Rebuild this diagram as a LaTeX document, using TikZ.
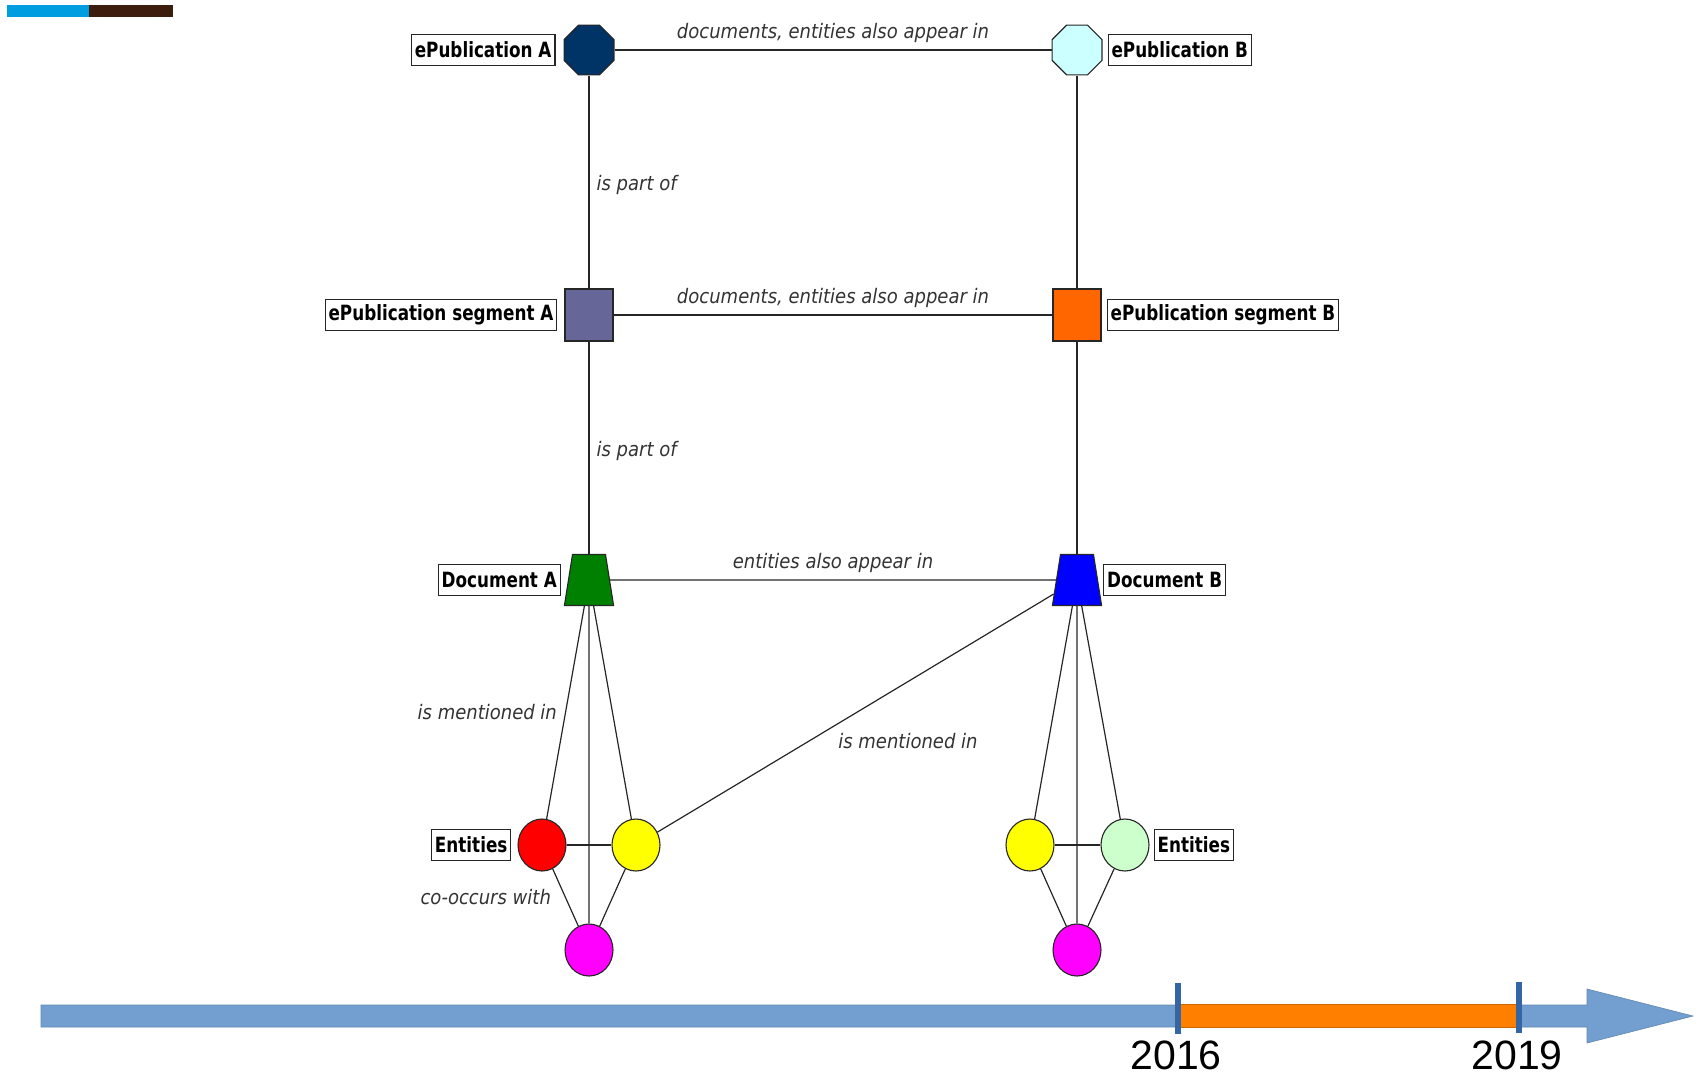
\documentclass[tikz,border=0pt]{standalone}
\usepackage{fontspec}
\usepackage{xcolor}
\usepackage{tikz}
\usetikzlibrary{shapes, arrows, positioning}
\setmainfont{Liberation Sans}
\newfontfamily\tagfont[FakeStretch=0.8]{DejaVu Sans}
\newfontfamily\relfont[FakeStretch=0.9]{DejaVu Sans}
\definecolor{navy}{HTML}{003366}
\definecolor{paleCyan}{HTML}{CCFFFF}
\definecolor{slate}{HTML}{666699}
\definecolor{segOrange}{HTML}{FF6600}
\definecolor{docGreen}{HTML}{008000}
\definecolor{docBlue}{HTML}{0000FF}
\definecolor{entRed}{HTML}{FF0000}
\definecolor{entYellow}{HTML}{FFFF00}
\definecolor{entMagenta}{HTML}{FF00FF}
\definecolor{mint}{HTML}{CCFFCC}
\definecolor{lineBlue}{HTML}{729FCF}
\definecolor{tickBlue}{HTML}{3465A4}
\definecolor{barOrange}{HTML}{FF8000}
\definecolor{logoBlue}{HTML}{009EE0}
\definecolor{logoBrown}{HTML}{3D1E0E}

\begin{document}
\begin{tikzpicture}[
        x=1pt, y=-1pt,
        vertex/.style={draw=black!85, line width=1.1pt, inner sep=0pt},
        octo/.style={vertex, regular polygon, regular polygon sides=8, minimum size=54pt},
        block/.style={vertex, rectangle, minimum width=48pt, minimum height=52pt},
        trap/.style={vertex, trapezium, trapezium left angle=81, trapezium right angle=81, text width=33pt, text height=51pt, text depth=0pt},
        entity/.style={vertex, ellipse, minimum width=48pt, minimum height=52pt},
        tag/.style={rectangle, draw=black!85, fill=white, line width=1.1pt, inner xsep=3.5pt, inner ysep=0pt, minimum height=31pt, font=\tagfont\bfseries\fontsize{21}{23}\selectfont},
        rel/.style={font=\relfont\itshape\fontsize{20}{22}\selectfont, text=black!80, inner sep=2pt},
        link/.style={draw=black!85, line width=1.2pt},
        year/.style={font=\fontsize{41}{43}\selectfont, inner sep=0pt, anchor=base}
    ]
    \useasboundingbox (0,0) rectangle (1702,1079);

    % Logo bar
    \fill[logoBlue] (7,5) rectangle (89,17);
    \fill[logoBrown] (89,5) rectangle (173,17);

    % Publications and segments
    \node[octo, fill=navy] (epubA) at (589, 50) {};
    \node[octo, fill=paleCyan] (epubB) at (1077, 50) {};
    \node[block, fill=slate] (segA) at (589, 315) {};
    \node[block, fill=segOrange] (segB) at (1077, 315) {};

    % Documents
    \node[trap, fill=docGreen] (docA) at (589, 580) {};
    \node[trap, fill=docBlue] (docB) at (1077, 580) {};

    % Entities
    \node[entity, fill=entRed] (redA) at (542, 845) {};
    \node[entity, fill=entYellow] (yelA) at (636, 845) {};
    \node[entity, fill=entMagenta] (magA) at (589, 950) {};
    \node[entity, fill=entYellow] (yelB) at (1030, 845) {};
    \node[entity, fill=mint] (grnB) at (1125, 845) {};
    \node[entity, fill=entMagenta] (magB) at (1077, 950) {};

    % Tags
    \node[tag, left=8pt of epubA] (tagEpubA) {ePublication A};
    \node[tag, right=5pt of epubB] (tagEpubB) {ePublication B};
    \node[tag, left=7pt of segA] (tagSegA) {ePublication segment A};
    \node[tag, right=5pt of segB] (tagSegB) {ePublication segment B};
    \node[tag, left=7pt of docA] (tagDocA) {Document A};
    \node[tag, right=5pt of docB] (tagDocB) {Document B};
    \node[tag, left=6pt of redA] (tagEntA) {Entities};
    \node[tag, right=4pt of grnB] (tagEntB) {Entities};

    % Relations
    \draw[link] (epubA) -- node[rel, above=5pt] (relTop) {documents, entities also appear in} (epubB);
    \draw[link] (epubA) -- node[rel, right=5pt, yshift=-3pt] (relPartA) {is part of} (segA);
    \draw[link] (segA) -- node[rel, above=5pt] (relMid) {documents, entities also appear in} (segB);
    \draw[link] (segA) -- node[rel, right=5pt, yshift=-3pt] (relPartB) {is part of} (docA);
    \draw[link] (docA) -- node[rel, above=5pt] (relDoc) {entities also appear in} (docB);
    \draw[link] (epubB) -- (segB);
    \draw[link] (segB) -- (docB);

    \draw[link] (docA) -- node[rel, left=6pt] (relMenA) {is mentioned in} (redA);
    \draw[link] (docA) -- (magA);
    \draw[link] (docA) -- (yelA);
    \draw[link] (redA) -- (yelA);
    \draw[link] (redA) -- node[rel, left=12pt] (relCo) {co-occurs with} (magA);
    \draw[link] (yelA) -- (magA);
    \draw[link] (yelA) -- node[rel, pos=0.45, anchor=north west, yshift=-6pt] (relMenB) {is mentioned in} (docB);

    \draw[link] (docB) -- (yelB);
    \draw[link] (docB) -- (magB);
    \draw[link] (docB) -- (grnB);
    \draw[link] (yelB) -- (grnB);
    \draw[link] (yelB) -- (magB);
    \draw[link] (grnB) -- (magB);

    % Timeline
    \filldraw[fill=lineBlue, draw=lineBlue!85!black, line width=0.6pt] (41,1005) -- (1587,1005) -- (1587,989) -- (1693,1016) -- (1587,1043) -- (1587,1027) -- (41,1027) -- cycle;
    \filldraw[fill=barOrange, draw=barOrange!80!black, line width=0.6pt] (1178,1004) rectangle (1519,1027);
    \fill[tickBlue] (1175,983) rectangle (1181,1034);
    \fill[tickBlue] (1516,982) rectangle (1522,1033);
    \node[year] (y2016) at (1176, 1069) {2016};
    \node[year] (y2019) at (1517, 1069) {2019};

\end{tikzpicture}
\end{document}
